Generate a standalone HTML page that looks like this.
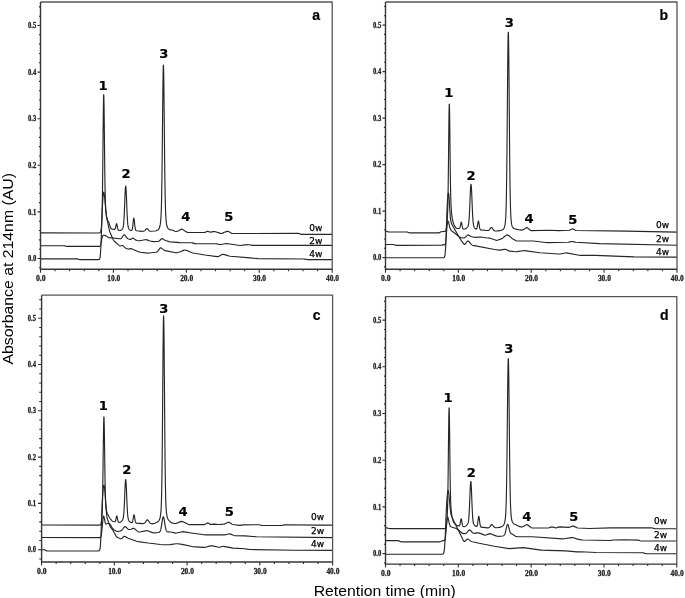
<!DOCTYPE html><html><head><meta charset="utf-8"><style>html,body{margin:0;padding:0;background:#fff}svg{display:block}</style><style>
.tl{font-family:"Liberation Serif",serif;font-size:8.6px;font-weight:bold;fill:#222;stroke:#222;stroke-width:0.3px}
.ty{font-size:8px}
.pl{font-family:"Liberation Sans",sans-serif;font-size:14px;font-weight:bold;fill:#000;stroke:#000;stroke-width:0.2px;text-anchor:middle}
.pk{font-family:"DejaVu Sans",sans-serif;font-size:13.1px;font-weight:bold;fill:#000;stroke:#000;stroke-width:0.2px;text-anchor:middle}
.wk{font-family:"DejaVu Sans",sans-serif;font-size:9px;fill:#000;stroke:#000;stroke-width:0.25px}
.at{font-family:"Liberation Sans",sans-serif;font-size:15px;fill:#000}
</style></head><body>
<svg width="685" height="598" viewBox="0 0 685 598">
<rect width="685" height="598" fill="#fff"/>
<g><polyline points="40.5,232.9 98.5,232.99 99.35,232.93 99.85,232.77 100.1,232.59 100.35,232.27 100.5,231.99 100.69,231.51 101,230.25 101.11,229.57 101.3,228.17 101.39,227.28 101.5,226.03 101.6,224.7 101.67,223.56 101.81,220.82 101.85,219.91 101.95,217.26 102,215.73 102.1,212.2 102.23,206.53 102.35,200.01 102.37,198.8 102.5,190 102.6,182.09 102.65,177.8 102.79,164.72 102.85,158.7 103.1,132.76 103.21,121.93 103.35,109.88 103.49,100.84 103.5,100.34 103.6,96.43 103.63,95.67 103.7,94.7 103.77,94.91 103.85,96.49 103.91,98.56 104,102.97 104.05,106.11 104.1,109.63 104.19,116.76 104.33,129.29 104.5,145.53 104.61,155.73 104.75,167.79 104.85,175.43 104.89,178.24 105,185.24 105.03,186.95 105.1,190.62 105.17,193.92 105.31,199.35 105.35,200.64 105.45,203.5 105.5,204.75 105.6,206.9 105.73,209.16 105.85,210.9 106.01,212.77 106.15,214.17 106.29,215.37 106.43,216.41 106.6,217.51 106.85,218.74 107,219.31 107.3,220.09 107.6,220.53 108.3,221.27 108.6,221.85 109,222.96 110,226.35 110.2,226.94 110.5,227.66 111,228.47 111.5,228.92 112.5,229.21 114.29,229.38 114.71,229.31 114.99,229.09 115.27,228.58 115.5,227.84 115.69,227.03 116.1,224.98 116.25,224.34 116.39,223.92 116.5,223.74 116.6,223.7 116.67,223.75 116.81,224.03 116.95,224.52 117.1,225.23 117.6,227.93 117.85,228.97 118.1,229.67 118.49,230.22 118.85,230.41 119.47,230.52 120.6,230.39 121.1,230.17 121.81,229.67 122.19,229.29 122.6,228.68 122.85,228.13 123,227.69 123.14,227.17 123.33,226.22 123.5,225.01 123.6,224.15 123.7,223.08 123.85,221.31 124,219.07 124.08,217.61 124.28,213.85 124.35,212.19 124.5,208.61 124.85,199.56 125,195.79 125.1,193.46 125.22,190.88 125.35,188.77 125.42,187.89 125.5,186.99 125.6,186.32 125.7,186.1 125.8,186.3 125.85,186.6 125.98,187.89 126.1,189.55 126.17,190.88 126.36,194.95 126.5,198.27 126.85,207.36 127,211.03 127.1,213.31 127.31,217.61 127.35,218.23 127.5,220.61 127.6,221.96 127.69,223.08 127.89,224.89 128.07,226.22 128.26,227.18 128.46,227.87 128.6,228.26 128.84,228.75 129.1,229.15 129.5,229.6 129.97,229.98 131,230.46 131.6,230.44 131.85,230.22 132,229.96 132.22,229.3 132.38,228.63 132.53,227.75 132.68,226.64 132.82,225.34 133.28,220.93 133.43,219.68 133.5,219.17 133.6,218.64 133.72,218.26 133.8,218.2 133.88,218.26 134,218.63 134.1,219.15 134.18,219.65 134.35,221.12 134.85,225.96 135.07,227.7 135.22,228.58 135.38,229.26 135.6,229.93 135.82,230.31 136.12,230.55 136.72,230.71 141.5,231.31 142.5,231.3 143.5,231.15 144.5,230.75 145,230.31 146,229.17 146.5,228.71 147,228.53 147.5,228.81 149,230.68 149.4,231.04 150,231.29 150.9,231.3 154.4,231.03 156.15,230.7 157,230.4 157.65,230.06 158.15,229.69 158.65,229.18 159.15,228.39 159.5,227.57 159.75,226.79 159.91,226.12 160.15,224.96 160.4,223.33 160.5,222.52 160.65,221.09 160.76,219.77 160.9,217.9 161,216.24 161.1,214.18 161.15,213.19 161.28,210 161.4,206.08 161.44,204.47 161.5,202.34 161.62,197.25 161.65,195.52 161.78,188.01 161.9,180.49 161.96,176.52 162,173.09 162.12,162.76 162.15,160.56 162.29,147 162.4,136.53 162.65,110.87 162.81,95.84 162.9,87.54 162.97,81.68 163,79.88 163.15,71.07 163.31,65.81 163.4,65.1 163.49,65.79 163.5,66.06 163.65,71.03 163.66,71.27 163.82,81.62 163.9,87.46 164,96.21 164.15,110.76 164.4,136.38 164.5,146.35 164.65,160.37 164.68,162.57 164.84,176.31 164.9,180.27 165,186.85 165.01,187.77 165.15,195.27 165.19,196.99 165.35,204.19 165.4,205.8 165.5,208.97 165.53,209.69 165.65,212.86 165.69,213.85 165.87,217 166,218.95 166.15,220.69 166.38,222.71 166.54,223.88 166.72,224.83 167,226.07 167.22,226.8 167.65,227.78 168,228.33 168.4,228.77 169.15,229.33 169.9,229.68 170.65,229.84 172.3,229.99 172.9,230.21 174.9,231.22 175.8,231.49 176.65,231.37 178.5,230.68 181,229.28 181.5,229.13 182,229.16 182.5,229.39 185,231.03 187,232.17 187.5,232.36 188.5,232.49 204,232.49 205,232.36 207,231.42 207.4,231.33 208,231.39 209.5,231.95 210.5,232.16 213.5,231.61 214.4,231.53 215.5,231.77 220.5,233.39 221.4,233.51 222,233.37 224.5,232.21 225.5,231.83 227,231.4 228,231.31 229,231.73 231.5,233.2 232,233.38 233,233.49 298,233.4 299,233.45 299.6,233.64 300.5,234.16 301.5,234.39 332.2,234.4" fill="none" stroke="#262626" stroke-width="1.15" stroke-linejoin="round"/><polyline points="40.5,245.7 64,245.71 65,245.92 66,246.31 67,246.4 99.5,246.38 100,246.24 100.5,245.5 100.9,244.16 101.8,238.95 102,237.97 102.5,236.2 102.7,235.76 103,235.41 103.5,235.24 104,235.28 105.5,235.63 106.5,236.14 108,237.22 109,237.63 120,238.78 120.5,238.74 121,238.53 121.5,238.05 122,237.4 123.5,235.27 124,234.79 124.3,234.72 124.5,234.79 125,235.23 126.5,237.42 127,238.03 127.5,238.43 128,238.71 129.5,239.33 130,239.44 130.5,239.39 131,239.17 132.5,238.26 133,238.16 133.5,238.32 134,238.65 135.5,239.84 136,240.15 137,240.49 138,240.7 139.5,240.77 145,239.73 146.2,239.64 147,239.85 150,241.04 153.3,241.65 157.5,241.47 158.5,241.33 158.9,241.17 159.5,240.74 161,239.25 161.5,238.83 162,238.6 162.5,238.67 163,238.92 164.5,239.92 165.5,240.44 169,241.59 170.5,241.81 180,242.58 191.5,242.71 192.5,242.88 194.5,243.6 195.5,243.69 216,243.71 217,243.82 219.5,244.48 220.2,244.58 221,244.5 224.5,243.72 226,243.67 230,243.97 240,245.53 245,244.92 249,244.74 250,244.79 252,245.32 253,245.4 332.2,245.4" fill="none" stroke="#262626" stroke-width="1.15" stroke-linejoin="round"/><polyline points="40.5,258.8 76.5,258.8 77.5,258.88 79,259.49 80,259.6 98.5,259.6 99,259.57 99.5,259.32 100,257.85 100.4,254.66 100.5,253.29 101,243.94 101.2,238.82 101.5,230.17 101.8,221.34 102,215.97 102.5,204.67 102.8,199.67 103,197.1 103.5,192.98 103.7,192.2 104,192.41 104.5,195.65 104.6,196.52 105,201.13 105.5,207.32 105.8,210.57 106,212.32 106.5,215.84 107,218.59 108,223.79 108.5,226.34 109,228.7 109.4,230.34 110,232.25 111,234.69 112.5,238.16 113,239.23 113.4,239.97 114,240.81 116,242.78 119,245.41 119.5,245.77 120,245.99 120.5,245.98 122,245.45 122.6,245.47 123,245.69 123.5,246.14 125,247.63 126,248.2 128,248.99 129,249.1 130.5,248.66 131.1,248.59 131.5,248.66 139,251.93 140.5,252.2 147.5,253.13 149,253.05 155.5,252.23 156.5,252.07 157,251.89 157.5,251.5 158,250.92 159.5,248.8 160,248.19 160.5,247.83 161,247.87 161.5,248.15 164,250.11 165,250.58 176,252.69 177,252.77 178,252.55 181.1,251.47 184,250.13 184.6,249.98 185,249.98 186,250.19 187.5,250.65 191.5,252.55 193,253.02 205,254.99 217,256.66 217.9,256.64 218.5,256.44 222,254.57 222.6,254.38 223,254.35 225.5,254.83 229,255.98 230.5,256.27 250,257.9 258,258.68 304,259 305,259.07 307,259.53 308,259.6 332.2,259.6" fill="none" stroke="#262626" stroke-width="1.15" stroke-linejoin="round"/><path d="M40.5 2H332.2V269.2" fill="none" stroke="#555" stroke-width="1.3"/><path d="M40.5 2V269.2H332.2" fill="none" stroke="#363636" stroke-width="1.4"/><path d="M38.9 267.82H40.5M37.5 258.5H40.5M38.9 249.18H40.5M38.9 239.86H40.5M38.9 230.54H40.5M38.9 221.22H40.5M37.5 211.9H40.5M38.9 202.58H40.5M38.9 193.26H40.5M38.9 183.94H40.5M38.9 174.62H40.5M37.5 165.3H40.5M38.9 155.98H40.5M38.9 146.66H40.5M38.9 137.34H40.5M38.9 128.02H40.5M37.5 118.7H40.5M38.9 109.38H40.5M38.9 100.06H40.5M38.9 90.74H40.5M38.9 81.42H40.5M37.5 72.1H40.5M38.9 62.78H40.5M38.9 53.46H40.5M38.9 44.14H40.5M38.9 34.82H40.5M37.5 25.5H40.5M38.9 16.18H40.5M38.9 6.86H40.5M40.5 269.2V272.7M55.09 269.2V271.2M69.67 269.2V271.2M84.25 269.2V271.2M98.84 269.2V271.2M113.42 269.2V272.7M128.01 269.2V271.2M142.59 269.2V271.2M157.18 269.2V271.2M171.76 269.2V271.2M186.35 269.2V272.7M200.94 269.2V271.2M215.52 269.2V271.2M230.1 269.2V271.2M244.69 269.2V271.2M259.27 269.2V272.7M273.86 269.2V271.2M288.44 269.2V271.2M303.03 269.2V271.2M317.62 269.2V271.2M332.2 269.2V272.7" stroke="#303030" stroke-width="1.1"/><text x="36.2" y="261.1" class="tl ty" text-anchor="end" textLength="8.2" lengthAdjust="spacingAndGlyphs">0.0</text><text x="36.2" y="214.5" class="tl ty" text-anchor="end" textLength="8.2" lengthAdjust="spacingAndGlyphs">0.1</text><text x="36.2" y="167.9" class="tl ty" text-anchor="end" textLength="8.2" lengthAdjust="spacingAndGlyphs">0.2</text><text x="36.2" y="121.3" class="tl ty" text-anchor="end" textLength="8.2" lengthAdjust="spacingAndGlyphs">0.3</text><text x="36.2" y="74.7" class="tl ty" text-anchor="end" textLength="8.2" lengthAdjust="spacingAndGlyphs">0.4</text><text x="36.2" y="28.1" class="tl ty" text-anchor="end" textLength="8.2" lengthAdjust="spacingAndGlyphs">0.5</text><text x="40.8" y="281" class="tl" text-anchor="middle" textLength="9.6" lengthAdjust="spacingAndGlyphs">0.0</text><text x="113.72" y="281" class="tl" text-anchor="middle" textLength="13" lengthAdjust="spacingAndGlyphs">10.0</text><text x="186.65" y="281" class="tl" text-anchor="middle" textLength="13" lengthAdjust="spacingAndGlyphs">20.0</text><text x="259.57" y="281" class="tl" text-anchor="middle" textLength="13" lengthAdjust="spacingAndGlyphs">30.0</text><text x="332.5" y="281" class="tl" text-anchor="middle" textLength="13" lengthAdjust="spacingAndGlyphs">40.0</text><text x="316.1" y="19.6" class="pl">a</text></g>
<g><polyline points="385.5,230.98 388.5,231.86 389.5,231.99 407,232.02 407.8,232.17 409,232.73 410,232.89 438,232.9 439,232.84 439.5,232.66 440.5,231.98 441,231.77 445,231.44 445.45,231.13 445.7,230.73 445.95,230.09 446.2,229.11 446.45,227.66 446.63,226.28 446.76,225.18 446.89,223.92 447.02,222.49 447.15,220.87 447.29,218.97 447.42,216.73 447.45,216.05 447.55,213.99 447.68,210.58 447.7,209.82 447.81,206.25 447.94,200.78 448,197.53 448.06,193.9 448.2,185.12 448.32,175.47 448.45,164.51 448.5,159.85 448.58,151.68 448.71,139.02 448.85,127.04 448.95,118.5 449,114.96 449.11,109.02 449.2,105.53 449.24,104.74 449.3,104.01 449.37,104.33 449.45,106.17 449.5,107.97 449.62,114.6 449.7,119.86 449.75,124.16 449.88,135.34 450.01,147.28 450.14,158.94 450.2,163.61 450.27,169.71 450.4,179.13 450.45,182.03 450.54,187 450.67,193.42 450.7,194.9 450.8,198.45 450.93,202.43 450.95,203.09 451,204.31 451.06,205.52 451.19,207.98 451.31,209.98 451.44,211.64 451.57,213.06 451.7,214.31 451.83,215.41 452,216.66 452.23,218.11 452.45,219.34 452.7,220.52 452.95,221.54 453.45,223.27 454,224.78 454.7,226.16 455.5,227.36 456,227.97 456.4,228.32 457,228.52 459.13,228.36 459.41,228.28 459.69,228.03 459.97,227.46 460.25,226.46 460.39,225.79 460.81,223.54 461,222.72 461.15,222.32 461.3,222.2 461.4,222.29 461.5,222.51 461.65,223.06 461.79,223.75 462.21,226.18 462.5,227.56 462.77,228.41 463,228.82 463.19,229.01 463.61,229.15 464.17,229.1 465.15,228.81 465.9,228.46 466.65,227.95 467.3,227.35 467.7,226.83 468,226.24 468.15,225.82 468.4,224.86 468.5,224.35 468.65,223.4 468.7,223.03 468.9,221.22 469,220.1 469.1,218.83 469.15,218.12 469.3,215.76 469.4,213.96 469.5,212 469.7,207.62 469.9,202.8 470.15,196.62 470.3,193.11 470.4,190.96 470.5,189.04 470.65,186.69 470.7,186.06 470.9,184.49 471,184.3 471.1,184.51 471.15,184.77 471.3,186.13 471.4,187.48 471.5,189.15 471.65,192.16 471.7,193.26 471.9,198.04 472.15,204.29 472.3,207.91 472.4,210.19 472.5,212.33 472.65,215.25 472.7,216.13 472.9,219.24 473,220.54 473.15,222.2 473.3,223.53 473.5,224.89 473.65,225.65 473.9,226.58 474,226.87 474.3,227.51 474.5,227.82 475.15,228.53 475.9,229.02 476.38,229.05 476.68,228.77 476.9,228.29 477.12,227.48 477.4,226.03 477.88,222.91 478.02,222.07 478.18,221.45 478.32,221.13 478.4,221.1 478.5,221.19 478.62,221.5 478.77,222.15 478.93,223.02 479.38,226.1 479.5,226.87 479.68,227.79 479.82,228.41 480,228.95 480.27,229.48 480.5,229.7 480.88,229.87 487,230.47 488.4,230.44 489,230.16 489.5,229.7 490.5,228.25 491,227.62 491.4,227.39 492,227.72 493.5,229.92 494,230.52 494.5,230.9 495.3,231.03 497.55,230.92 500,230.68 501.5,230.26 502.8,229.54 503.3,229.1 503.8,228.45 504.05,228 504.3,227.44 504.55,226.7 504.8,225.72 504.97,224.86 505.15,223.72 505.33,222.26 505.5,220.46 505.55,219.83 505.69,217.76 505.8,215.75 505.87,214.26 506,210.98 506.05,209.51 506.23,203.08 506.3,200.04 506.41,194.53 506.5,189.33 506.55,186.14 506.59,183.44 506.77,169.51 506.8,166.91 506.95,152.72 507,147.58 507.05,142.26 507.13,133.39 507.3,113.51 507.49,90.73 507.55,83.7 507.67,70.27 507.8,57.21 507.85,52.75 508,41.64 508.05,38.82 508.21,33.08 508.3,32.2 508.39,33.06 508.5,36.43 508.55,38.76 508.57,39.84 508.75,52.65 508.8,57.11 508.93,70.14 509,77.83 509.05,83.54 509.11,90.56 509.3,113.3 509.47,133.15 509.55,142 509.65,152.44 509.8,166.6 509.83,169.2 510,182.39 510.05,185.78 510.19,194.14 510.3,199.62 510.37,202.66 510.5,207.46 510.55,209.05 510.73,213.76 510.8,215.24 510.91,217.22 511,218.59 511.09,219.76 511.27,221.65 511.45,223.07 511.63,224.17 511.8,224.99 511.99,225.73 512.17,226.28 512.5,227.04 513,227.78 513.8,228.44 514.8,228.84 519.8,229.94 521,230.1 522.5,229.85 524,229.36 526,227.9 526.5,227.64 526.8,227.6 527.5,227.89 530,230.04 530.5,230.38 531,230.59 531.5,230.66 550,230.22 558.5,230.67 568.5,230.26 570,230.07 572,229.02 572.8,228.82 573.5,229.09 575,230.12 575.4,230.32 576.5,230.51 626,231.1 677,232.1" fill="none" stroke="#262626" stroke-width="1.15" stroke-linejoin="round"/><polyline points="385.5,244.5 393.5,244.51 394.5,244.7 395.5,245.2 396,245.34 397,245.39 441,245.2 442,245.13 443.5,244.63 444,244.72 444.5,244.96 445,244.82 445.5,243.32 445.8,241.16 446,239.02 446.3,235.35 446.5,232.63 447,226.32 447.1,225.2 447.5,222.19 447.9,221 448,221.03 448.5,222.2 449.5,226.29 450,227.98 450.5,229.3 451,230.17 451.5,230.75 452.5,231.54 455.2,233.44 459,236.64 460,237.33 461,237.62 463.5,237.95 464,237.97 464.5,237.86 465,237.58 467.5,235.2 468.1,234.93 468.5,235 469,235.28 470,236.04 471,236.56 474,237.2 475.5,237.35 480.9,237.05 486,237.79 489.5,238.17 491,238.54 496,240.21 496.8,240.34 498,240.06 502,238.59 503,237.94 504.5,236.53 505.5,235.72 506.5,235.12 507.3,234.91 508,235.14 509,235.8 510,236.57 512,238.4 513,239.08 516,240.76 517,240.98 533.4,241.03 545.5,242.48 547,242.58 568,242.3 569,242.17 571,241.53 571.5,241.45 572.5,241.56 575,242.15 576,242.26 599.5,243.69 677,245.3" fill="none" stroke="#262626" stroke-width="1.15" stroke-linejoin="round"/><polyline points="385.5,257.7 443.5,257.6 444,257.52 444.5,257.01 445,255.07 445.5,249.34 445.6,247.7 446,238.52 446.1,236.02 446.5,224.48 446.6,221.4 447,210.67 447.3,203.96 447.5,200.3 448,194.3 448.1,193.48 448.5,192.86 448.7,193.45 449,196.26 449.3,200.66 449.7,208.09 450,213.05 450.4,218.05 450.5,218.87 451,222.04 451.5,223.52 452,224.56 452.9,226.26 457.5,234.31 460.5,239.37 461.5,240.91 463.5,243.6 464,244.16 464.5,244.42 465,244.26 465.5,243.73 467,241.64 467.5,241.13 467.8,241 468,241.01 468.5,241.26 469,241.72 471.5,244.59 472,244.97 473,245.33 494.6,249.48 499.5,250.08 500.5,250.12 504,249.37 505.1,249.26 506,249.52 509,250.87 510,251.19 515.5,251.72 517,251.68 523,250.7 524.5,250.58 540,252.78 558.5,254.02 560,254 565.5,252.95 566.5,252.9 579,255.21 580.5,255.39 595.5,255.42 634,256.9 677,257.1" fill="none" stroke="#262626" stroke-width="1.15" stroke-linejoin="round"/><path d="M385.5 2H677V269.2" fill="none" stroke="#555" stroke-width="1.3"/><path d="M385.5 2V269.2H677" fill="none" stroke="#363636" stroke-width="1.4"/><path d="M383.9 266.9H385.5M382.5 257.6H385.5M383.9 248.3H385.5M383.9 239H385.5M383.9 229.7H385.5M383.9 220.4H385.5M382.5 211.1H385.5M383.9 201.8H385.5M383.9 192.5H385.5M383.9 183.2H385.5M383.9 173.9H385.5M382.5 164.6H385.5M383.9 155.3H385.5M383.9 146H385.5M383.9 136.7H385.5M383.9 127.4H385.5M382.5 118.1H385.5M383.9 108.8H385.5M383.9 99.5H385.5M383.9 90.2H385.5M383.9 80.9H385.5M382.5 71.6H385.5M383.9 62.3H385.5M383.9 53H385.5M383.9 43.7H385.5M383.9 34.4H385.5M382.5 25.1H385.5M383.9 15.8H385.5M383.9 6.5H385.5M385.5 269.2V272.7M400.07 269.2V271.2M414.65 269.2V271.2M429.23 269.2V271.2M443.8 269.2V271.2M458.38 269.2V272.7M472.95 269.2V271.2M487.52 269.2V271.2M502.1 269.2V271.2M516.67 269.2V271.2M531.25 269.2V272.7M545.83 269.2V271.2M560.4 269.2V271.2M574.98 269.2V271.2M589.55 269.2V271.2M604.12 269.2V272.7M618.7 269.2V271.2M633.27 269.2V271.2M647.85 269.2V271.2M662.42 269.2V271.2M677 269.2V272.7" stroke="#303030" stroke-width="1.1"/><text x="381.3" y="260.2" class="tl ty" text-anchor="end" textLength="8.2" lengthAdjust="spacingAndGlyphs">0.0</text><text x="381.3" y="213.7" class="tl ty" text-anchor="end" textLength="8.2" lengthAdjust="spacingAndGlyphs">0.1</text><text x="381.3" y="167.2" class="tl ty" text-anchor="end" textLength="8.2" lengthAdjust="spacingAndGlyphs">0.2</text><text x="381.3" y="120.7" class="tl ty" text-anchor="end" textLength="8.2" lengthAdjust="spacingAndGlyphs">0.3</text><text x="381.3" y="74.2" class="tl ty" text-anchor="end" textLength="8.2" lengthAdjust="spacingAndGlyphs">0.4</text><text x="381.3" y="27.7" class="tl ty" text-anchor="end" textLength="8.2" lengthAdjust="spacingAndGlyphs">0.5</text><text x="385.8" y="281" class="tl" text-anchor="middle" textLength="9.6" lengthAdjust="spacingAndGlyphs">0.0</text><text x="458.68" y="281" class="tl" text-anchor="middle" textLength="13" lengthAdjust="spacingAndGlyphs">10.0</text><text x="531.55" y="281" class="tl" text-anchor="middle" textLength="13" lengthAdjust="spacingAndGlyphs">20.0</text><text x="604.42" y="281" class="tl" text-anchor="middle" textLength="13" lengthAdjust="spacingAndGlyphs">30.0</text><text x="677.3" y="281" class="tl" text-anchor="middle" textLength="13" lengthAdjust="spacingAndGlyphs">40.0</text><text x="663.7" y="19.8" class="pl">b</text></g>
<g><polyline points="41.6,525 98.6,525.19 99.55,525.13 100.05,524.97 100.55,524.52 100.75,524.19 101.05,523.4 101.3,522.35 101.45,521.49 101.59,520.45 101.7,519.47 101.8,518.34 101.87,517.44 102.01,515.27 102.1,513.5 102.15,512.39 102.3,508.38 102.43,503.86 102.55,498.72 102.6,496.28 102.71,490.25 102.8,484.64 102.85,481.28 102.99,471.04 103.1,462.35 103.3,446.15 103.41,437.74 103.55,428.41 103.6,425.61 103.69,421.44 103.8,418.07 103.83,417.51 103.9,416.82 103.97,417.02 104.05,418.29 104.11,419.96 104.25,425.95 104.3,428.72 104.39,434.34 104.5,442.01 104.67,454.73 104.8,464.28 104.95,474.46 105.05,480.46 105.09,482.66 105.23,489.5 105.3,492.38 105.37,494.93 105.51,499.15 105.6,501.31 105.65,502.34 105.8,504.88 105.93,506.54 106.05,507.74 106.21,509.01 106.35,509.89 106.63,511.26 106.91,512.3 107.3,513.39 107.6,514.05 109.2,517.07 110.1,518.51 111.6,520.38 112.1,520.89 112.6,521.26 113.1,521.47 114.21,521.75 114.91,521.74 115.1,521.61 115.35,521.25 115.6,520.59 115.75,520.03 116.31,517.27 116.45,516.68 116.6,516.22 116.8,516 116.87,516.04 117.01,516.31 117.15,516.78 117.29,517.42 117.85,520.35 118.1,521.3 118.35,521.91 118.69,522.32 119.1,522.47 119.6,522.43 120.1,522.26 120.85,521.83 121.42,521.36 122,520.76 122.38,520.25 122.75,519.56 122.94,519.07 123.1,518.55 123.35,517.36 123.52,516.24 123.6,515.54 123.7,514.53 123.89,512.25 124.1,509.08 124.28,505.78 124.35,504.2 124.47,501.63 124.6,498.41 124.85,492.22 125.03,487.85 125.1,486.44 125.22,484 125.35,482 125.42,481.17 125.6,479.7 125.7,479.5 125.8,479.7 125.85,480 125.98,481.24 126.1,482.83 126.17,484.11 126.36,488.01 126.56,492.55 126.85,499.89 126.94,501.92 127.1,505.59 127.31,509.72 127.35,510.32 127.5,512.68 127.6,513.91 127.69,515 127.89,516.75 128.07,518.05 128.26,518.99 128.46,519.68 128.65,520.19 128.85,520.6 129.22,521.15 130.1,521.99 131.1,522.53 131.82,522.63 132.1,522.48 132.28,522.26 132.43,521.96 132.57,521.54 132.72,520.97 132.85,520.38 133.03,519.41 133.47,516.55 133.62,515.74 133.78,515.15 133.85,514.95 134,514.8 134.1,514.88 134.22,515.18 134.38,515.79 134.53,516.62 134.97,519.56 135.1,520.29 135.28,521.17 135.43,521.76 135.6,522.28 135.85,522.75 136.1,522.99 136.47,523.15 142.6,523.62 143.6,523.55 144.1,523.38 144.6,523.07 145,522.72 145.6,521.94 146.6,520.42 147.1,519.88 147.4,519.78 147.6,519.84 148.1,520.28 149.6,522.52 150,523 150.35,523.3 151.35,523.76 152.35,523.84 154.85,523.22 156.6,522.55 157.35,522.12 158.1,521.56 158.6,521.06 159.1,520.37 159.6,519.33 159.85,518.59 160.12,517.57 160.28,516.73 160.46,515.72 160.62,514.46 160.79,512.88 160.97,510.83 161.1,508.75 161.13,508.12 161.31,504.49 161.35,503.33 161.47,499.57 161.6,494.88 161.65,492.93 161.81,484.11 161.85,481.98 161.99,472.66 162.1,463.26 162.16,458.27 162.32,440.9 162.35,438.11 162.5,420.88 162.6,407.53 162.85,374.68 163,355.38 163.1,344.71 163.18,337.17 163.34,323.8 163.35,323.5 163.51,316.72 163.6,315.8 163.69,316.69 163.85,323.42 163.85,323.73 164.03,337.04 164.1,344.56 164.19,355.2 164.35,374.45 164.6,407.22 164.71,420.54 164.85,437.73 164.88,440.51 165.04,457.83 165.1,462.8 165.22,472.17 165.35,481.45 165.38,483.57 165.56,492.34 165.6,494.27 165.72,498.92 165.85,502.64 165.9,503.79 166.06,507.37 166.1,507.98 166.24,510.03 166.35,511.44 166.41,512.03 166.57,513.56 166.75,514.77 166.91,515.74 167.1,516.59 167.43,517.73 167.8,518.68 168.1,519.27 168.85,520.38 169.85,521.46 170.85,522.3 171.85,522.93 172.6,523.19 174.85,523.49 175.8,523.48 176.85,523.17 180.6,521.65 181.7,521.4 182.6,521.62 183.6,522.05 188.1,524.27 188.7,524.48 189.6,524.59 204.1,524.59 205.1,524.36 207.1,523.01 207.6,522.86 208.1,522.97 210.1,524.23 210.6,524.41 211.6,524.42 214.4,524.07 218.1,524.52 219.1,524.53 223.6,524.09 224.6,523.91 228.1,522.32 228.6,522.19 229.1,522.26 229.6,522.51 231.6,524.02 232.6,524.45 239.6,525.41 240.1,525.39 242.6,524.91 258.6,524.72 259.6,524.78 261,525.32 261.6,525.46 262.6,525.5 282.1,525.49 283,525.32 284.1,524.85 285.1,524.72 316.6,525.09 332.6,525.1" fill="none" stroke="#262626" stroke-width="1.15" stroke-linejoin="round"/><polyline points="41.6,537.5 100.1,537.65 100.6,537.32 101.1,536.06 101.3,535.2 101.6,533.2 102.2,527.33 102.6,522.78 103.1,518.15 103.3,516.84 103.6,516.05 104.1,517.03 104.5,518.89 105.1,522.08 105.4,523.24 105.6,523.7 106.1,524.14 107.3,523.36 107.6,523.27 108.1,523.3 109.1,523.62 109.6,523.94 110.1,524.45 110.6,525.17 112.6,528.44 113.4,529.52 114.1,530.07 114.6,530.34 116.6,531.24 117.6,531.53 118.6,531.41 120.1,530.99 121.1,530.66 121.6,530.37 122.1,529.9 122.6,529.24 124.1,527.07 124.6,526.6 124.8,526.5 125.1,526.5 125.6,526.79 128.1,529.18 128.6,529.45 129.1,529.55 130.1,529.44 131.1,529.19 133.1,528.37 133.6,528.3 134.1,528.42 135.1,529.17 137.6,531.38 138.1,531.74 138.6,531.97 139.6,531.97 146.6,530.63 147.6,530.78 152.6,532.62 153.6,532.89 154.6,532.89 156.6,532.7 158.25,532.52 159,532.35 159.6,531.98 160,531.47 160.25,530.97 160.6,529.99 160.75,529.45 161,528.37 161.25,527.07 161.6,524.95 162.25,520.64 162.6,518.65 162.75,517.98 163,517.17 163.1,516.97 163.3,516.8 163.5,516.95 163.6,517.14 163.75,517.56 164,518.58 164.25,519.93 165,524.78 165.25,526.3 165.5,527.65 165.75,528.79 166,529.71 166.25,530.43 166.5,530.96 166.75,531.34 167.25,531.77 167.75,531.93 170.6,532 175.6,533.08 176.6,533.01 182.1,531.81 183.1,531.69 191.1,532.95 204.1,534.77 205.6,534.89 224.6,534.88 225.6,534.73 228.6,533.97 229.6,533.86 230.6,534.11 233.6,535.3 234.6,535.56 245,535.82 256.6,536.79 332.6,537.6" fill="none" stroke="#262626" stroke-width="1.15" stroke-linejoin="round"/><polyline points="41.6,549.7 44.1,549.72 44.6,549.82 45,549.99 46.1,550.76 46.6,550.94 47.6,550.99 98.6,550.81 99.1,550.75 99.6,550.31 100.1,548.44 100.4,545.63 100.6,542.49 101,534.6 101.5,520.98 102.1,505.59 102.2,503.39 102.6,495.87 103.1,489.1 103.6,485.59 104.1,485.06 104.6,488.12 105,492.46 105.6,501.21 105.8,504.33 106.1,508.63 106.6,514.3 106.7,515.28 107.1,517.85 107.6,519.74 108.6,522.14 109.6,525.2 110.1,526.56 110.6,527.47 112.1,529.15 112.6,529.82 113.6,531.49 115.6,535.34 116.1,536.15 116.6,536.7 117.1,537.09 118.1,537.69 120.6,538.67 121.1,538.79 121.8,538.68 122.1,538.46 123.6,536.67 124,536.38 124.6,536.36 128.1,538.26 136.6,541.3 138.1,541.59 148.1,543.04 160.6,544.54 162.6,544.7 170,544.66 176.1,543.75 177.6,543.7 182.1,544.34 192.2,546.56 203.6,547.31 204.6,547.34 205.6,547.2 210.1,545.88 211.1,545.72 212.6,545.93 218.6,547.26 219.6,547.23 222.6,546.51 223.6,546.41 233,548.16 244.6,548.7 248.6,549.4 249.6,549.5 295,550.3 332.6,550.3" fill="none" stroke="#262626" stroke-width="1.15" stroke-linejoin="round"/><path d="M41.6 295.2H332.6V562" fill="none" stroke="#555" stroke-width="1.3"/><path d="M41.6 295.2V562H332.6" fill="none" stroke="#363636" stroke-width="1.4"/><path d="M39.2 558.96H41.6M38 549.7H41.6M39.2 540.44H41.6M39.2 531.18H41.6M39.2 521.92H41.6M39.2 512.66H41.6M38 503.4H41.6M39.2 494.14H41.6M39.2 484.88H41.6M39.2 475.62H41.6M39.2 466.36H41.6M38 457.1H41.6M39.2 447.84H41.6M39.2 438.58H41.6M39.2 429.32H41.6M39.2 420.06H41.6M38 410.8H41.6M39.2 401.54H41.6M39.2 392.28H41.6M39.2 383.02H41.6M39.2 373.76H41.6M38 364.5H41.6M39.2 355.24H41.6M39.2 345.98H41.6M39.2 336.72H41.6M39.2 327.46H41.6M38 318.2H41.6M39.2 308.94H41.6M39.2 299.68H41.6M41.6 562V565.5M56.15 562V564M70.7 562V564M85.25 562V564M99.8 562V564M114.35 562V565.5M128.9 562V564M143.45 562V564M158 562V564M172.55 562V564M187.1 562V565.5M201.65 562V564M216.2 562V564M230.75 562V564M245.3 562V564M259.85 562V565.5M274.4 562V564M288.95 562V564M303.5 562V564M318.05 562V564M332.6 562V565.5" stroke="#303030" stroke-width="1.1"/><text x="36" y="552.3" class="tl ty" text-anchor="end" textLength="8.2" lengthAdjust="spacingAndGlyphs">0.0</text><text x="36" y="506" class="tl ty" text-anchor="end" textLength="8.2" lengthAdjust="spacingAndGlyphs">0.1</text><text x="36" y="459.7" class="tl ty" text-anchor="end" textLength="8.2" lengthAdjust="spacingAndGlyphs">0.2</text><text x="36" y="413.4" class="tl ty" text-anchor="end" textLength="8.2" lengthAdjust="spacingAndGlyphs">0.3</text><text x="36" y="367.1" class="tl ty" text-anchor="end" textLength="8.2" lengthAdjust="spacingAndGlyphs">0.4</text><text x="36" y="320.8" class="tl ty" text-anchor="end" textLength="8.2" lengthAdjust="spacingAndGlyphs">0.5</text><text x="41.9" y="573.7" class="tl" text-anchor="middle" textLength="9.6" lengthAdjust="spacingAndGlyphs">0.0</text><text x="114.65" y="573.7" class="tl" text-anchor="middle" textLength="13" lengthAdjust="spacingAndGlyphs">10.0</text><text x="187.4" y="573.7" class="tl" text-anchor="middle" textLength="13" lengthAdjust="spacingAndGlyphs">20.0</text><text x="260.15" y="573.7" class="tl" text-anchor="middle" textLength="13" lengthAdjust="spacingAndGlyphs">30.0</text><text x="332.9" y="573.7" class="tl" text-anchor="middle" textLength="13" lengthAdjust="spacingAndGlyphs">40.0</text><text x="316.6" y="319.8" class="pl">c</text></g>
<g><polyline points="385.5,527.66 389,528.49 390.5,528.6 443,528.6 444.5,528.57 445,528.46 445.25,528.32 445.5,528.05 445.75,527.6 446,526.86 446.31,525.38 446.56,523.5 446.69,522.33 446.82,521 446.95,519.46 447.08,517.66 447.21,515.52 447.35,512.9 447.48,509.62 447.5,508.9 447.61,505.5 447.74,500.26 447.75,499.58 447.87,493.7 448,485.29 448.12,476.05 448.25,465.56 448.38,453.24 448.51,441.13 448.64,429.62 448.75,421.46 448.77,419.73 448.9,412.4 449,409.06 449.04,408.34 449.1,407.73 449.17,408.05 449.25,409.85 449.3,411.61 449.43,418.16 449.5,423.26 449.56,427.43 449.69,438.36 449.81,449.92 449.94,461.23 450,465.78 450.07,471.65 450.2,480.71 450.25,483.51 450.33,488.29 450.46,494.37 450.5,495.77 450.6,499.13 450.73,502.81 450.86,505.63 450.9,506.44 451,508.06 451.12,509.59 451.25,511.03 451.38,512.27 451.63,514.31 451.76,515.18 452.02,516.7 452.25,517.83 452.5,518.92 452.75,519.85 453,520.64 453.4,521.67 453.75,522.32 454.25,523 455.5,524.3 456.5,525.17 457,525.46 457.5,525.62 458.61,525.83 459.17,525.82 459.45,525.66 459.59,525.48 459.87,524.83 460.01,524.32 460.15,523.68 460.29,522.92 460.7,520.4 460.85,519.62 461,519.06 461.13,518.82 461.2,518.8 461.27,518.85 461.41,519.17 461.55,519.75 461.7,520.59 462.2,523.8 462.39,524.77 462.5,525.22 462.67,525.77 462.81,526.09 463,526.38 463.2,526.55 463.65,526.71 464.2,526.7 464.95,526.47 465.5,526.16 466.2,525.64 466.9,524.92 467.48,524.17 467.86,523.45 468.05,522.95 468.2,522.41 468.43,521.32 468.5,520.85 468.62,520.01 468.7,519.27 468.81,518.22 469,515.84 469.2,512.52 469.38,509.06 469.45,507.41 469.56,504.71 469.7,501.34 470,493.57 470.13,490.27 470.2,488.79 470.32,486.22 470.45,484.13 470.51,483.26 470.7,481.71 470.8,481.5 470.89,481.71 471,482.41 471.08,483.32 471.2,484.99 471.27,486.33 471.45,490.06 471.5,491.25 471.65,495.16 472,504.12 472.2,508.83 472.42,513.15 472.45,513.77 472.61,516.23 472.7,517.52 472.8,518.65 473,520.6 473.18,521.82 473.37,522.8 473.56,523.51 473.75,524.03 474,524.54 474.31,525.01 475.2,525.88 476.18,526.42 476.7,526.42 476.93,526.22 477.07,525.97 477.23,525.59 477.38,525.04 477.52,524.3 477.68,523.38 477.82,522.28 478.27,518.56 478.45,517.36 478.57,516.75 478.7,516.38 478.8,516.3 478.88,516.36 479,516.69 479.18,517.59 479.32,518.68 479.7,521.88 479.93,523.63 480.07,524.6 480.23,525.37 480.45,526.2 480.68,526.7 480.95,527.02 481.27,527.19 487.5,527.88 488.5,527.81 489,527.57 489.5,527.18 490,526.6 491,525.14 491.5,524.6 491.8,524.49 492,524.56 492.5,525.01 493.8,526.8 494.5,527.33 495.5,527.72 496.55,527.78 499.3,527.35 501.05,526.89 501.8,526.57 502.5,526.16 503.05,525.69 503.5,525.17 504.05,524.23 504.3,523.62 504.61,522.63 504.8,521.84 505,520.81 505.15,519.85 505.33,518.42 505.5,516.7 505.55,516.11 505.69,514.19 505.8,512.36 505.87,511.02 506,508.08 506.05,506.79 506.23,501.16 506.3,498.53 506.41,493.8 506.5,489.35 506.55,486.64 506.59,484.34 506.77,472.59 506.8,470.4 506.95,458.51 507,454.21 507.05,449.77 507.13,442.39 507.3,425.86 507.49,406.99 507.55,401.17 507.67,390.07 507.8,379.28 507.85,375.59 508,366.42 508.05,364.09 508.21,359.34 508.3,358.6 508.39,359.29 508.5,362.04 508.55,363.96 508.57,364.84 508.75,375.36 508.8,379.03 508.93,389.75 509,396.08 509.05,400.79 509.11,406.57 509.3,425.35 509.47,441.79 509.55,449.13 509.65,457.82 509.8,469.63 509.83,471.81 510,482.88 510.05,485.74 510.19,492.83 510.3,497.5 510.37,500.11 510.5,504.25 510.55,505.64 510.73,509.78 510.8,511.09 510.91,512.86 511.05,514.71 511.09,515.17 511.3,517.17 511.45,518.26 511.63,519.32 511.81,520.16 512.05,521.04 512.3,521.74 512.55,522.28 513,522.99 513.3,523.33 513.8,523.76 514.5,524.18 516.55,524.97 519.8,526.64 520.7,526.93 521.55,526.9 523,526.58 524,526.14 526,524.87 526.5,524.66 527,524.67 527.5,524.89 528,525.23 531,527.5 531.6,527.82 532.5,527.99 548,527.97 549,527.78 551,527.14 552,526.95 553,527.13 555,527.75 555.7,527.85 556.5,527.72 558.5,527.08 559.5,526.88 568.5,527.42 569.5,527.18 572,526.16 572.8,526.01 573.5,526.15 577,527.71 578,527.98 589.5,528.48 610.5,527.9 651.5,527.9 652.5,527.95 653,528.08 654,528.52 655,528.69 676.8,528.7" fill="none" stroke="#262626" stroke-width="1.15" stroke-linejoin="round"/><polyline points="385.5,540.6 398,540.61 399,540.83 400.5,541.69 401.5,541.8 439.5,541.8 440.5,541.72 441,541.53 442,540.87 442.5,540.68 444,540.59 444.5,540.42 445,539.56 445.5,537.03 446,531.96 446.5,525.69 447,520.17 447.5,517.44 447.7,517.1 448,517.54 448.5,519.72 449,522.2 449.5,524.26 450,525.68 450.5,526.41 451,526.76 451.5,526.94 455.5,528.22 456.7,528.72 457.5,529.29 462,533.05 462.6,533.4 463.5,533.59 465,533.58 465.9,533.33 466.5,532.87 469,530.18 469.6,529.92 470,530.05 470.5,530.43 472.5,532.59 473,533.04 473.4,533.3 474,533.43 477.5,532.88 478.5,532.83 479.5,533.1 484,534.86 485.1,535.12 486,534.96 489,533.88 490,533.68 491,533.91 496,535.88 497.3,536.29 498.5,536.32 502.8,535.97 503.5,535.74 504,535.38 504.5,534.74 504.8,534.14 505.05,533.5 505.3,532.71 505.55,531.77 505.8,530.7 506.55,527.16 506.8,526.09 507,525.38 507.3,524.62 507.6,524.3 507.8,524.36 508,524.62 508.3,525.37 508.55,526.24 509.5,530.19 509.8,531.25 510.05,531.98 510.3,532.55 510.55,532.99 511.05,533.52 512.5,534.21 515.5,536.16 516.3,536.55 517,536.68 532.5,536.73 562.5,538.85 564,538.76 571.5,537.58 572.5,537.52 573.5,537.76 577.5,539.09 581.5,539.89 583,540.02 610,540.48 610.7,540.43 613,540 624,539.71 638,540.08 639,540.27 640,540.78 641,540.99 676.8,541" fill="none" stroke="#262626" stroke-width="1.15" stroke-linejoin="round"/><polyline points="385.5,554.2 441.5,554.2 442.5,554.18 443,554.06 443.6,553.37 444,552.11 444.5,548.44 444.6,547.41 445,541.25 445.3,534.85 445.5,529.9 445.9,519.61 446,517.18 446.5,506.23 446.7,502.74 447,498.35 447.5,493.24 447.6,492.45 448,490.65 448.3,490.6 448.5,491.3 449,494.99 450,506.6 450.4,510.35 450.5,511.07 451,513.95 451.2,514.74 451.5,515.72 452,517 452.5,518.13 454.5,522.48 456,525.62 463,539.76 463.5,540.67 464,541.32 464.2,541.48 464.5,541.53 465,541.27 467,539.32 467.6,539.05 468,539.11 468.5,539.39 470,540.63 470.9,541.25 471.5,541.51 472.5,541.76 479,543.2 494.5,546.3 509,548.64 523.6,547.56 541.1,550.17 565.5,550.89 577,551.84 580.5,551.74 596,552.5 642.5,552.79 643.5,552.88 645,553.53 646,553.69 676.8,553.7" fill="none" stroke="#262626" stroke-width="1.15" stroke-linejoin="round"/><path d="M385.5 296.6H676.8V564.1" fill="none" stroke="#555" stroke-width="1.3"/><path d="M385.5 296.6V564.1H676.8" fill="none" stroke="#363636" stroke-width="1.4"/><path d="M383.9 562.94H385.5M382.5 553.6H385.5M383.9 544.26H385.5M383.9 534.92H385.5M383.9 525.58H385.5M383.9 516.24H385.5M382.5 506.9H385.5M383.9 497.56H385.5M383.9 488.22H385.5M383.9 478.88H385.5M383.9 469.54H385.5M382.5 460.2H385.5M383.9 450.86H385.5M383.9 441.52H385.5M383.9 432.18H385.5M383.9 422.84H385.5M382.5 413.5H385.5M383.9 404.16H385.5M383.9 394.82H385.5M383.9 385.48H385.5M383.9 376.14H385.5M382.5 366.8H385.5M383.9 357.46H385.5M383.9 348.12H385.5M383.9 338.78H385.5M383.9 329.44H385.5M382.5 320.1H385.5M383.9 310.76H385.5M383.9 301.42H385.5M385.5 564.1V567.6M400.06 564.1V566.1M414.63 564.1V566.1M429.19 564.1V566.1M443.76 564.1V566.1M458.32 564.1V567.6M472.89 564.1V566.1M487.45 564.1V566.1M502.02 564.1V566.1M516.59 564.1V566.1M531.15 564.1V567.6M545.71 564.1V566.1M560.28 564.1V566.1M574.85 564.1V566.1M589.41 564.1V566.1M603.97 564.1V567.6M618.54 564.1V566.1M633.11 564.1V566.1M647.67 564.1V566.1M662.23 564.1V566.1M676.8 564.1V567.6" stroke="#303030" stroke-width="1.1"/><text x="381.3" y="556.2" class="tl ty" text-anchor="end" textLength="8.2" lengthAdjust="spacingAndGlyphs">0.0</text><text x="381.3" y="509.5" class="tl ty" text-anchor="end" textLength="8.2" lengthAdjust="spacingAndGlyphs">0.1</text><text x="381.3" y="462.8" class="tl ty" text-anchor="end" textLength="8.2" lengthAdjust="spacingAndGlyphs">0.2</text><text x="381.3" y="416.1" class="tl ty" text-anchor="end" textLength="8.2" lengthAdjust="spacingAndGlyphs">0.3</text><text x="381.3" y="369.4" class="tl ty" text-anchor="end" textLength="8.2" lengthAdjust="spacingAndGlyphs">0.4</text><text x="381.3" y="322.7" class="tl ty" text-anchor="end" textLength="8.2" lengthAdjust="spacingAndGlyphs">0.5</text><text x="385.8" y="575.8" class="tl" text-anchor="middle" textLength="9.6" lengthAdjust="spacingAndGlyphs">0.0</text><text x="458.62" y="575.8" class="tl" text-anchor="middle" textLength="13" lengthAdjust="spacingAndGlyphs">10.0</text><text x="531.45" y="575.8" class="tl" text-anchor="middle" textLength="13" lengthAdjust="spacingAndGlyphs">20.0</text><text x="604.27" y="575.8" class="tl" text-anchor="middle" textLength="13" lengthAdjust="spacingAndGlyphs">30.0</text><text x="677.1" y="575.8" class="tl" text-anchor="middle" textLength="13" lengthAdjust="spacingAndGlyphs">40.0</text><text x="664.2" y="320.1" class="pl">d</text></g>
<text x="103.1" y="90.3" class="pk">1</text>
<text x="126.1" y="177.7" class="pk">2</text>
<text x="163.8" y="57.6" class="pk">3</text>
<text x="185.8" y="220.6" class="pk">4</text>
<text x="228.9" y="220.6" class="pk">5</text>
<text x="448.9" y="96.7" class="pk">1</text>
<text x="471" y="180.3" class="pk">2</text>
<text x="509.2" y="26.9" class="pk">3</text>
<text x="529" y="222.5" class="pk">4</text>
<text x="572.9" y="223.8" class="pk">5</text>
<text x="103.2" y="410.2" class="pk">1</text>
<text x="126.7" y="473.8" class="pk">2</text>
<text x="163.8" y="312.6" class="pk">3</text>
<text x="183" y="515.6" class="pk">4</text>
<text x="229.3" y="515.9" class="pk">5</text>
<text x="448" y="402" class="pk">1</text>
<text x="471.3" y="477.1" class="pk">2</text>
<text x="508.8" y="353.4" class="pk">3</text>
<text x="526.8" y="520.6" class="pk">4</text>
<text x="573.9" y="520.6" class="pk">5</text>
<text x="309.3" y="230.6" class="wk">0w</text>
<text x="309.3" y="243.5" class="wk">2w</text>
<text x="309.3" y="257.2" class="wk">4w</text>
<text x="656" y="228.3" class="wk">0w</text>
<text x="656" y="241.5" class="wk">2w</text>
<text x="656" y="254.8" class="wk">4w</text>
<text x="311.1" y="520.3" class="wk">0w</text>
<text x="311.1" y="533.5" class="wk">2w</text>
<text x="311.1" y="546.6" class="wk">4w</text>
<text x="654" y="524.3" class="wk">0w</text>
<text x="654" y="538" class="wk">2w</text>
<text x="654" y="551.1" class="wk">4w</text>
<text x="384.7" y="595.7" class="at" text-anchor="middle" textLength="142" lengthAdjust="spacingAndGlyphs">Retention time (min)</text>
<text transform="translate(13,268.8) rotate(-90)" x="0" y="0" class="at" text-anchor="middle" textLength="191.5" lengthAdjust="spacingAndGlyphs">Absorbance at 214nm (AU)</text>
</svg>
</body></html>
